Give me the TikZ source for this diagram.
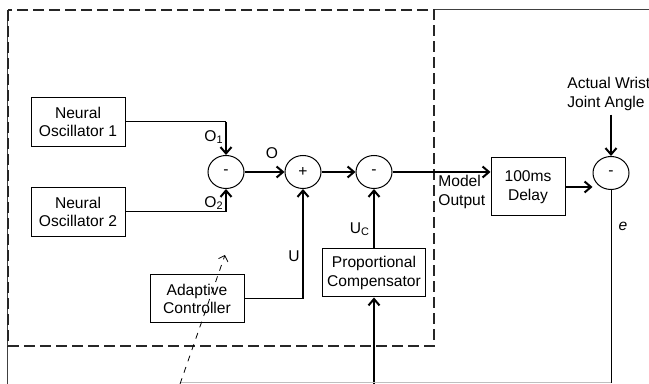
\documentclass[tikz,border=0pt]{standalone}
\usepackage{fontspec}
\setmainfont{Liberation Sans}
\usepackage{tikz}
\usetikzlibrary{positioning, calc, arrows.meta, shapes.geometric}

\begin{document}
\begin{tikzpicture}[x=0.5pt, y=-0.5pt, font=\fontsize{7.8}{9.2}\selectfont,
    >={Straight Barb[length=3.2pt, width=5.5pt, line width=1pt]},
    blk/.style={draw, line width=0.5pt, align=center, inner sep=0pt},
    sumnode/.style={draw, ellipse, line width=0.5pt, minimum width=18pt, minimum height=16.5pt, inner sep=0pt},
    thk/.style={line width=1.3pt},
    thn/.style={line width=0.5pt}]
    \useasboundingbox (0,0) rectangle (649,384);

    % Frame and controller boundary
    \draw[thn, black!75] (7,384) -- (7,10);
    \draw[thn, black!75] (434,10) -- (649,10);
    \draw[line width=0.6pt, black!85, dash pattern=on 5.5pt off 2.5pt] (8,10) rectangle (434,346);

    % Blocks
    \node[blk, minimum width=47pt, minimum height=24.5pt] (osc1) at (78,122) {Neural\\Oscillator 1};
    \node[blk, minimum width=47pt, minimum height=24.5pt] (osc2) at (78,212) {Neural\\Oscillator 2};
    \node[blk, minimum width=47pt, minimum height=24pt] (adapt) at (197,299) {Adaptive\\Controller};
    \node[blk, minimum width=51.5pt, minimum height=24pt] (pcomp) at (374,273) {Proportional\\Compensator};
    \node[blk, minimum width=37pt, minimum height=29pt] (delay) at (528,187) {100ms\\Delay};

    % Summing junctions
    \node[sumnode] (sum1) at (226,172) {-};
    \node[sumnode] (sum2) at (303,172) {+};
    \node[sumnode] (sum3) at (374,172) {-};
    \node[sumnode] (sum4) at (611,173) {-};

    % Oscillator outputs
    \coordinate (o1knee) at (sum1 |- osc1.east);
    \coordinate (o2knee) at (sum1 |- osc2.east);
    \draw[thn] (osc1.east) -- (o1knee);
    \draw[thk, ->] (o1knee) -- (sum1.north);
    \draw[thn] (osc2.east) -- (o2knee);
    \draw[thk, ->] (o2knee) -- (sum1.south);
    \node (lo1) at (214,137) {O\textsubscript{1}};
    \node (lo2) at (214,203) {O\textsubscript{2}};

    % Forward path
    \draw[thk, ->] (sum1.east) -- (sum2.west);
    \node (lo) at (272,153) {O};
    \draw[thk, ->] (sum2.east) -- (sum3.west);
    \draw[thk, ->] (sum3.east) -- (sum3.east -| delay.west);
    \node[align=left, anchor=west, inner sep=0pt] (lmodel) at (438,192) {Model\\Output};
    \draw[thk, ->] (delay.east) -- (delay.east -| sum4.west);

    % Adaptive controller and compensator
    \coordinate (uknee) at (sum2 |- adapt.east);
    \draw[thn] (adapt.east) -- (uknee);
    \draw[thk, ->] (uknee) -- (sum2.south);
    \node (lu) at (294,256) {U};
    \draw[thk, ->] (pcomp.north) -- (sum3.south);
    \node (luc) at (360,229) {U\textsubscript{C}};
    \coordinate (pcin) at (374,384);
    \draw[thk, ->] (pcin) -- (pcomp.south);

    % Measured angle and error
    \node[align=left, anchor=north west, inner sep=0pt] (actual) at (567,77) {Actual Wrist\\Joint Angle};
    \coordinate (actfoot) at (sum4 |- actual.south);
    \draw[thk, ->] ($(actfoot)+(0,4)$) -- (sum4.north);
    \coordinate (ecorner) at (611,383);
    \coordinate (eend) at (180,383);
    \draw[thn] (sum4.south) -- (ecorner);
    \draw[thn, black!25] (ecorner) -- (eend);
    \node (le) at (623,226) {\itshape e};

    % Adaptation arrow
    \coordinate (adfoot) at (180,384);
    \coordinate (adtip) at (225,255);
    \draw[line width=0.4pt, dashed, -{Straight Barb[length=2.5pt, width=5pt]}] (adfoot) -- (adtip);
\end{tikzpicture}
\end{document}
